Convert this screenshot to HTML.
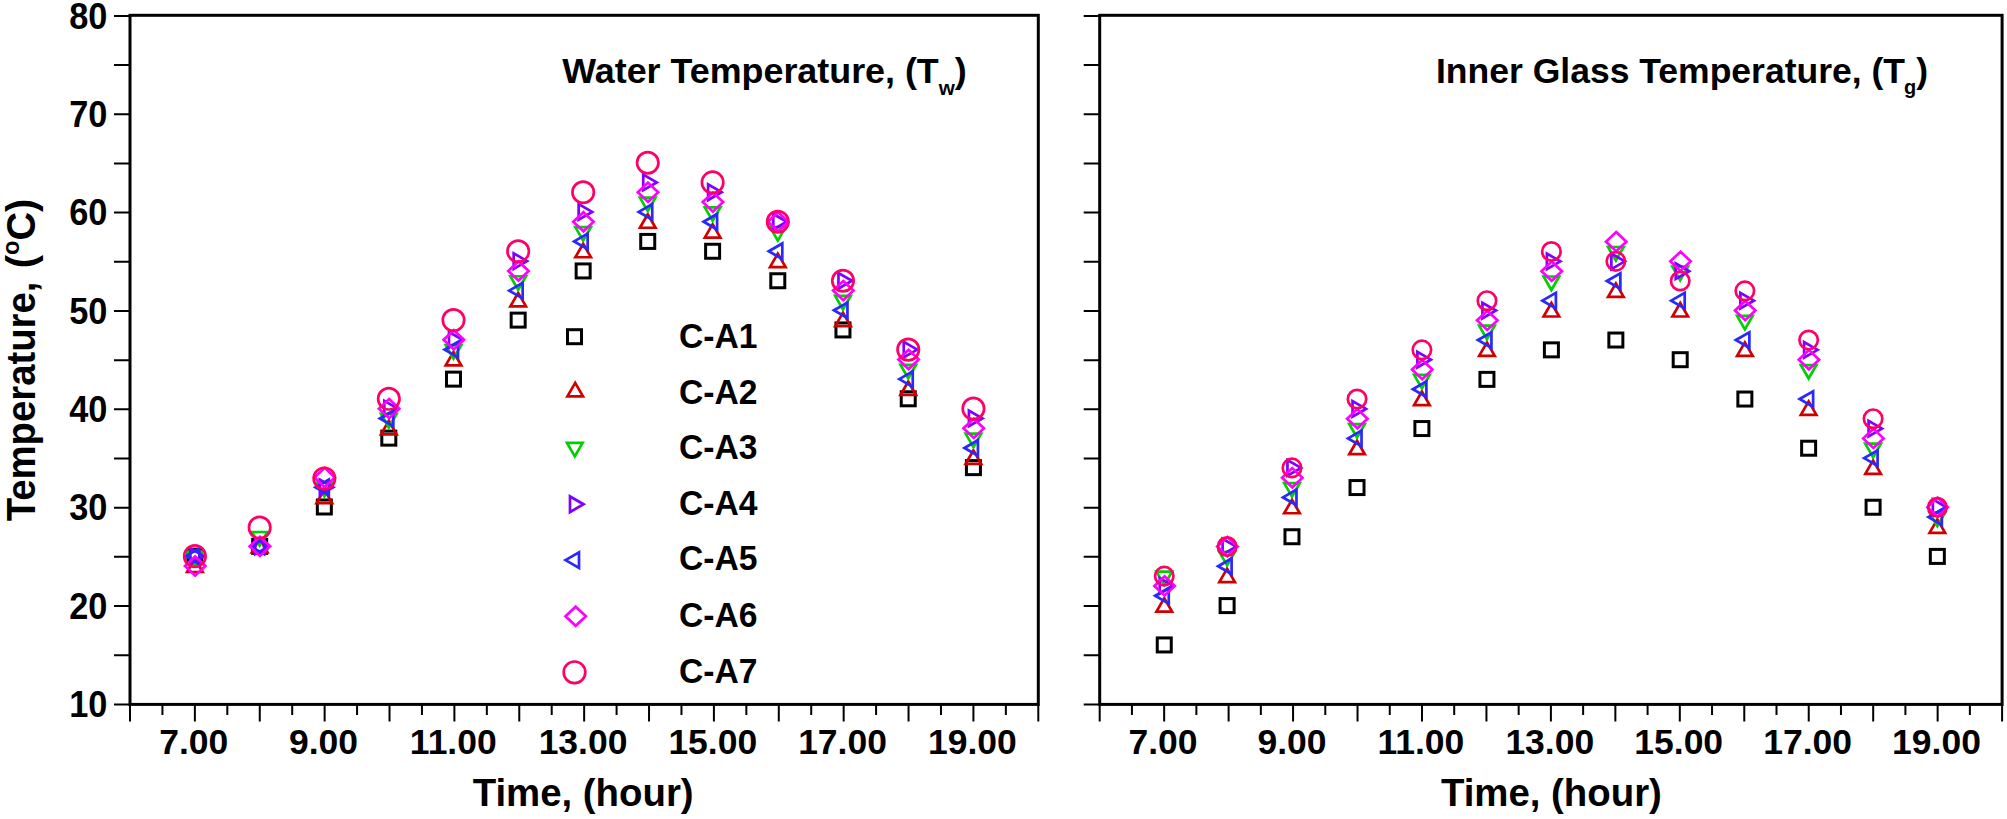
<!DOCTYPE html>
<html lang="en"><head><meta charset="utf-8"><title>Temperature charts</title>
<style>html,body{margin:0;padding:0;background:#fff;}body{width:2007px;height:819px;overflow:hidden;}svg{display:block;}text{font-family:'Liberation Sans', Arial, Helvetica, sans-serif;font-weight:bold;fill:#000;}</style></head><body>
<svg width="2007" height="819" viewBox="0 0 2007 819">
<rect x="0" y="0" width="2007" height="819" fill="#ffffff"/>
<g>
<path d="M114 704.4H130M114 655.22H130M114 606.04H130M114 556.86H130M114 507.69H130M114 458.51H130M114 409.33H130M114 360.15H130M114 310.97H130M114 261.79H130M114 212.61H130M114 163.44H130M114 114.26H130M114 65.08H130M114 15.9H130M130 704.4V721.4M162.44 704.4V714.9M194.88 704.4V721.4M227.32 704.4V714.9M259.76 704.4V721.4M292.2 704.4V714.9M324.64 704.4V721.4M357.07 704.4V714.9M389.51 704.4V721.4M421.95 704.4V714.9M454.39 704.4V721.4M486.83 704.4V714.9M519.27 704.4V721.4M551.71 704.4V714.9M584.15 704.4V721.4M616.59 704.4V714.9M649.03 704.4V721.4M681.47 704.4V714.9M713.91 704.4V721.4M746.35 704.4V714.9M778.79 704.4V721.4M811.22 704.4V714.9M843.66 704.4V721.4M876.1 704.4V714.9M908.54 704.4V721.4M940.98 704.4V714.9M973.42 704.4V721.4M1005.86 704.4V714.9M1038.3 704.4V721.4" stroke="#000" stroke-width="2" fill="none"/>
<rect x="130" y="15.3" width="908.3" height="689.1" fill="none" stroke="#000" stroke-width="3"/>
<text x="193.78" y="753.9" font-size="35.5" text-anchor="middle">7.00</text>
<text x="323.54" y="753.9" font-size="35.5" text-anchor="middle">9.00</text>
<text x="453.29" y="753.9" font-size="35.5" text-anchor="middle">11.00</text>
<text x="583.05" y="753.9" font-size="35.5" text-anchor="middle">13.00</text>
<text x="712.81" y="753.9" font-size="35.5" text-anchor="middle">15.00</text>
<text x="842.56" y="753.9" font-size="35.5" text-anchor="middle">17.00</text>
<text x="972.32" y="753.9" font-size="35.5" text-anchor="middle">19.00</text>
<text x="583.15" y="805.9" font-size="39.5" text-anchor="middle" textLength="221" lengthAdjust="spacingAndGlyphs">Time, (hour)</text>
<g><rect x="187.88" y="549.16" width="14" height="14" fill="none" stroke="#000000" stroke-width="3" stroke-linejoin="miter"/><rect x="252.66" y="539.33" width="14" height="14" fill="none" stroke="#000000" stroke-width="3" stroke-linejoin="miter"/><rect x="317.34" y="499.99" width="14" height="14" fill="none" stroke="#000000" stroke-width="3" stroke-linejoin="miter"/><rect x="381.81" y="431.14" width="14" height="14" fill="none" stroke="#000000" stroke-width="3" stroke-linejoin="miter"/><rect x="446.49" y="372.12" width="14" height="14" fill="none" stroke="#000000" stroke-width="3" stroke-linejoin="miter"/><rect x="511.17" y="313.11" width="14" height="14" fill="none" stroke="#000000" stroke-width="3" stroke-linejoin="miter"/><rect x="576.15" y="263.93" width="14" height="14" fill="none" stroke="#000000" stroke-width="3" stroke-linejoin="miter"/><rect x="640.73" y="234.42" width="14" height="14" fill="none" stroke="#000000" stroke-width="3" stroke-linejoin="miter"/><rect x="705.61" y="244.26" width="14" height="14" fill="none" stroke="#000000" stroke-width="3" stroke-linejoin="miter"/><rect x="770.79" y="273.76" width="14" height="14" fill="none" stroke="#000000" stroke-width="3" stroke-linejoin="miter"/><rect x="835.96" y="322.94" width="14" height="14" fill="none" stroke="#000000" stroke-width="3" stroke-linejoin="miter"/><rect x="901.24" y="391.79" width="14" height="14" fill="none" stroke="#000000" stroke-width="3" stroke-linejoin="miter"/><rect x="966.42" y="460.64" width="14" height="14" fill="none" stroke="#000000" stroke-width="3" stroke-linejoin="miter"/></g>
<g><polygon points="194.88,558.5 202.67,572 187.08,572" fill="none" stroke="#d00000" stroke-width="2.7" stroke-linejoin="miter"/><polygon points="259.66,538.83 267.45,552.33 251.86,552.33" fill="none" stroke="#d00000" stroke-width="2.7" stroke-linejoin="miter"/><polygon points="324.34,489.65 332.13,503.15 316.54,503.15" fill="none" stroke="#d00000" stroke-width="2.7" stroke-linejoin="miter"/><polygon points="388.81,420.8 396.61,434.3 381.02,434.3" fill="none" stroke="#d00000" stroke-width="2.7" stroke-linejoin="miter"/><polygon points="453.49,351.95 461.29,365.45 445.7,365.45" fill="none" stroke="#d00000" stroke-width="2.7" stroke-linejoin="miter"/><polygon points="518.17,292.94 525.97,306.44 510.38,306.44" fill="none" stroke="#d00000" stroke-width="2.7" stroke-linejoin="miter"/><polygon points="583.15,243.76 590.94,257.26 575.36,257.26" fill="none" stroke="#d00000" stroke-width="2.7" stroke-linejoin="miter"/><polygon points="647.73,214.25 655.52,227.75 639.93,227.75" fill="none" stroke="#d00000" stroke-width="2.7" stroke-linejoin="miter"/><polygon points="712.61,224.09 720.4,237.59 704.81,237.59" fill="none" stroke="#d00000" stroke-width="2.7" stroke-linejoin="miter"/><polygon points="777.79,253.59 785.58,267.09 769.99,267.09" fill="none" stroke="#d00000" stroke-width="2.7" stroke-linejoin="miter"/><polygon points="842.96,312.61 850.76,326.11 835.17,326.11" fill="none" stroke="#d00000" stroke-width="2.7" stroke-linejoin="miter"/><polygon points="908.24,381.46 916.04,394.96 900.45,394.96" fill="none" stroke="#d00000" stroke-width="2.7" stroke-linejoin="miter"/><polygon points="973.42,450.31 981.22,463.81 965.63,463.81" fill="none" stroke="#d00000" stroke-width="2.7" stroke-linejoin="miter"/></g>
<g><polygon points="194.88,565.16 202.67,551.66 187.08,551.66" fill="none" stroke="#00d000" stroke-width="2.7" stroke-linejoin="miter"/><polygon points="259.66,545.49 267.45,531.99 251.86,531.99" fill="none" stroke="#00d000" stroke-width="2.7" stroke-linejoin="miter"/><polygon points="324.34,496.31 332.13,482.81 316.54,482.81" fill="none" stroke="#00d000" stroke-width="2.7" stroke-linejoin="miter"/><polygon points="388.81,427.46 396.61,413.96 381.02,413.96" fill="none" stroke="#00d000" stroke-width="2.7" stroke-linejoin="miter"/><polygon points="453.49,358.61 461.29,345.11 445.7,345.11" fill="none" stroke="#00d000" stroke-width="2.7" stroke-linejoin="miter"/><polygon points="518.17,289.76 525.97,276.26 510.38,276.26" fill="none" stroke="#00d000" stroke-width="2.7" stroke-linejoin="miter"/><polygon points="583.15,240.59 590.94,227.09 575.36,227.09" fill="none" stroke="#00d000" stroke-width="2.7" stroke-linejoin="miter"/><polygon points="647.73,211.08 655.52,197.58 639.93,197.58" fill="none" stroke="#00d000" stroke-width="2.7" stroke-linejoin="miter"/><polygon points="712.61,220.91 720.4,207.41 704.81,207.41" fill="none" stroke="#00d000" stroke-width="2.7" stroke-linejoin="miter"/><polygon points="777.79,240.59 785.58,227.09 769.99,227.09" fill="none" stroke="#00d000" stroke-width="2.7" stroke-linejoin="miter"/><polygon points="842.96,309.44 850.76,295.94 835.17,295.94" fill="none" stroke="#00d000" stroke-width="2.7" stroke-linejoin="miter"/><polygon points="908.24,378.29 916.04,364.79 900.45,364.79" fill="none" stroke="#00d000" stroke-width="2.7" stroke-linejoin="miter"/><polygon points="973.42,447.14 981.22,433.64 965.63,433.64" fill="none" stroke="#00d000" stroke-width="2.7" stroke-linejoin="miter"/></g>
<g><polygon points="203.88,556.16 190.38,548.37 190.38,563.96" fill="none" stroke="#8000ff" stroke-width="2.7" stroke-linejoin="miter"/><polygon points="268.66,546.33 255.16,538.53 255.16,554.12" fill="none" stroke="#8000ff" stroke-width="2.7" stroke-linejoin="miter"/><polygon points="333.34,487.31 319.84,479.52 319.84,495.11" fill="none" stroke="#8000ff" stroke-width="2.7" stroke-linejoin="miter"/><polygon points="397.81,408.63 384.31,400.83 384.31,416.42" fill="none" stroke="#8000ff" stroke-width="2.7" stroke-linejoin="miter"/><polygon points="462.49,339.78 448.99,331.98 448.99,347.57" fill="none" stroke="#8000ff" stroke-width="2.7" stroke-linejoin="miter"/><polygon points="527.17,261.09 513.67,253.3 513.67,268.89" fill="none" stroke="#8000ff" stroke-width="2.7" stroke-linejoin="miter"/><polygon points="592.15,211.91 578.65,204.12 578.65,219.71" fill="none" stroke="#8000ff" stroke-width="2.7" stroke-linejoin="miter"/><polygon points="656.73,182.41 643.23,174.61 643.23,190.2" fill="none" stroke="#8000ff" stroke-width="2.7" stroke-linejoin="miter"/><polygon points="721.61,192.24 708.11,184.45 708.11,200.04" fill="none" stroke="#8000ff" stroke-width="2.7" stroke-linejoin="miter"/><polygon points="786.79,221.75 773.29,213.96 773.29,229.54" fill="none" stroke="#8000ff" stroke-width="2.7" stroke-linejoin="miter"/><polygon points="851.96,280.76 838.46,272.97 838.46,288.56" fill="none" stroke="#8000ff" stroke-width="2.7" stroke-linejoin="miter"/><polygon points="917.24,349.61 903.74,341.82 903.74,357.41" fill="none" stroke="#8000ff" stroke-width="2.7" stroke-linejoin="miter"/><polygon points="982.42,418.46 968.92,410.67 968.92,426.26" fill="none" stroke="#8000ff" stroke-width="2.7" stroke-linejoin="miter"/></g>
<g><polygon points="185.88,556.16 199.38,548.37 199.38,563.96" fill="none" stroke="#2828ff" stroke-width="2.7" stroke-linejoin="miter"/><polygon points="250.66,546.33 264.16,538.53 264.16,554.12" fill="none" stroke="#2828ff" stroke-width="2.7" stroke-linejoin="miter"/><polygon points="315.34,487.31 328.84,479.52 328.84,495.11" fill="none" stroke="#2828ff" stroke-width="2.7" stroke-linejoin="miter"/><polygon points="379.81,418.46 393.31,410.67 393.31,426.26" fill="none" stroke="#2828ff" stroke-width="2.7" stroke-linejoin="miter"/><polygon points="444.49,349.61 457.99,341.82 457.99,357.41" fill="none" stroke="#2828ff" stroke-width="2.7" stroke-linejoin="miter"/><polygon points="509.17,290.6 522.67,282.81 522.67,298.39" fill="none" stroke="#2828ff" stroke-width="2.7" stroke-linejoin="miter"/><polygon points="574.15,241.42 587.65,233.63 587.65,249.22" fill="none" stroke="#2828ff" stroke-width="2.7" stroke-linejoin="miter"/><polygon points="638.73,211.91 652.23,204.12 652.23,219.71" fill="none" stroke="#2828ff" stroke-width="2.7" stroke-linejoin="miter"/><polygon points="703.61,221.75 717.11,213.96 717.11,229.54" fill="none" stroke="#2828ff" stroke-width="2.7" stroke-linejoin="miter"/><polygon points="768.79,251.26 782.29,243.46 782.29,259.05" fill="none" stroke="#2828ff" stroke-width="2.7" stroke-linejoin="miter"/><polygon points="833.96,310.27 847.46,302.48 847.46,318.07" fill="none" stroke="#2828ff" stroke-width="2.7" stroke-linejoin="miter"/><polygon points="899.24,379.12 912.74,371.33 912.74,386.92" fill="none" stroke="#2828ff" stroke-width="2.7" stroke-linejoin="miter"/><polygon points="964.42,447.97 977.92,440.18 977.92,455.77" fill="none" stroke="#2828ff" stroke-width="2.7" stroke-linejoin="miter"/></g>
<g><polygon points="195.18,556.4 205.38,566 195.18,575.6 184.98,566" fill="none" stroke="#ff00ff" stroke-width="2.7" stroke-linejoin="miter"/><polygon points="259.96,536.73 270.16,546.33 259.96,555.93 249.76,546.33" fill="none" stroke="#ff00ff" stroke-width="2.7" stroke-linejoin="miter"/><polygon points="324.64,467.88 334.84,477.48 324.64,487.08 314.44,477.48" fill="none" stroke="#ff00ff" stroke-width="2.7" stroke-linejoin="miter"/><polygon points="389.11,399.03 399.31,408.63 389.11,418.23 378.91,408.63" fill="none" stroke="#ff00ff" stroke-width="2.7" stroke-linejoin="miter"/><polygon points="453.79,330.18 463.99,339.78 453.79,349.38 443.59,339.78" fill="none" stroke="#ff00ff" stroke-width="2.7" stroke-linejoin="miter"/><polygon points="518.47,261.33 528.67,270.93 518.47,280.53 508.27,270.93" fill="none" stroke="#ff00ff" stroke-width="2.7" stroke-linejoin="miter"/><polygon points="583.45,212.15 593.65,221.75 583.45,231.35 573.25,221.75" fill="none" stroke="#ff00ff" stroke-width="2.7" stroke-linejoin="miter"/><polygon points="648.03,182.64 658.23,192.24 648.03,201.84 637.83,192.24" fill="none" stroke="#ff00ff" stroke-width="2.7" stroke-linejoin="miter"/><polygon points="712.91,192.48 723.11,202.08 712.91,211.68 702.71,202.08" fill="none" stroke="#ff00ff" stroke-width="2.7" stroke-linejoin="miter"/><polygon points="778.09,212.15 788.29,221.75 778.09,231.35 767.89,221.75" fill="none" stroke="#ff00ff" stroke-width="2.7" stroke-linejoin="miter"/><polygon points="843.26,281 853.46,290.6 843.26,300.2 833.06,290.6" fill="none" stroke="#ff00ff" stroke-width="2.7" stroke-linejoin="miter"/><polygon points="908.54,349.85 918.74,359.45 908.54,369.05 898.34,359.45" fill="none" stroke="#ff00ff" stroke-width="2.7" stroke-linejoin="miter"/><polygon points="973.72,418.7 983.92,428.3 973.72,437.9 963.52,428.3" fill="none" stroke="#ff00ff" stroke-width="2.7" stroke-linejoin="miter"/></g>
<g><circle cx="194.88" cy="556.16" r="10.7" fill="none" stroke="#ff0066" stroke-width="2.7" stroke-linejoin="miter"/><circle cx="259.66" cy="527.64" r="10.7" fill="none" stroke="#ff0066" stroke-width="2.7" stroke-linejoin="miter"/><circle cx="324.34" cy="478.46" r="10.7" fill="none" stroke="#ff0066" stroke-width="2.7" stroke-linejoin="miter"/><circle cx="388.81" cy="398.79" r="10.7" fill="none" stroke="#ff0066" stroke-width="2.7" stroke-linejoin="miter"/><circle cx="453.49" cy="320.11" r="10.7" fill="none" stroke="#ff0066" stroke-width="2.7" stroke-linejoin="miter"/><circle cx="518.17" cy="251.26" r="10.7" fill="none" stroke="#ff0066" stroke-width="2.7" stroke-linejoin="miter"/><circle cx="583.15" cy="192.24" r="10.7" fill="none" stroke="#ff0066" stroke-width="2.7" stroke-linejoin="miter"/><circle cx="647.73" cy="162.74" r="10.7" fill="none" stroke="#ff0066" stroke-width="2.7" stroke-linejoin="miter"/><circle cx="712.61" cy="182.41" r="10.7" fill="none" stroke="#ff0066" stroke-width="2.7" stroke-linejoin="miter"/><circle cx="777.79" cy="221.75" r="10.7" fill="none" stroke="#ff0066" stroke-width="2.7" stroke-linejoin="miter"/><circle cx="842.96" cy="280.76" r="10.7" fill="none" stroke="#ff0066" stroke-width="2.7" stroke-linejoin="miter"/><circle cx="908.24" cy="349.61" r="10.7" fill="none" stroke="#ff0066" stroke-width="2.7" stroke-linejoin="miter"/><circle cx="973.42" cy="408.63" r="10.7" fill="none" stroke="#ff0066" stroke-width="2.7" stroke-linejoin="miter"/></g>
</g>
<g>
<path d="M1083.7 704.4H1099.7M1083.7 655.22H1099.7M1083.7 606.04H1099.7M1083.7 556.86H1099.7M1083.7 507.69H1099.7M1083.7 458.51H1099.7M1083.7 409.33H1099.7M1083.7 360.15H1099.7M1083.7 310.97H1099.7M1083.7 261.79H1099.7M1083.7 212.61H1099.7M1083.7 163.44H1099.7M1083.7 114.26H1099.7M1083.7 65.08H1099.7M1083.7 15.9H1099.7M1099.7 704.4V721.4M1131.93 704.4V714.9M1164.16 704.4V721.4M1196.39 704.4V714.9M1228.61 704.4V721.4M1260.84 704.4V714.9M1293.07 704.4V721.4M1325.3 704.4V714.9M1357.53 704.4V721.4M1389.76 704.4V714.9M1421.99 704.4V721.4M1454.21 704.4V714.9M1486.44 704.4V721.4M1518.67 704.4V714.9M1550.9 704.4V721.4M1583.13 704.4V714.9M1615.36 704.4V721.4M1647.59 704.4V714.9M1679.81 704.4V721.4M1712.04 704.4V714.9M1744.27 704.4V721.4M1776.5 704.4V714.9M1808.73 704.4V721.4M1840.96 704.4V714.9M1873.19 704.4V721.4M1905.41 704.4V714.9M1937.64 704.4V721.4M1969.87 704.4V714.9M2002.1 704.4V721.4" stroke="#000" stroke-width="2" fill="none"/>
<rect x="1099.7" y="15.3" width="902.4" height="689.1" fill="none" stroke="#000" stroke-width="3"/>
<text x="1163.06" y="753.9" font-size="35.5" text-anchor="middle">7.00</text>
<text x="1291.97" y="753.9" font-size="35.5" text-anchor="middle">9.00</text>
<text x="1420.89" y="753.9" font-size="35.5" text-anchor="middle">11.00</text>
<text x="1549.8" y="753.9" font-size="35.5" text-anchor="middle">13.00</text>
<text x="1678.71" y="753.9" font-size="35.5" text-anchor="middle">15.00</text>
<text x="1807.63" y="753.9" font-size="35.5" text-anchor="middle">17.00</text>
<text x="1936.54" y="753.9" font-size="35.5" text-anchor="middle">19.00</text>
<text x="1551.4" y="805.9" font-size="39.5" text-anchor="middle" textLength="221" lengthAdjust="spacingAndGlyphs">Time, (hour)</text>
<g><rect x="1157.26" y="637.94" width="14" height="14" fill="none" stroke="#000000" stroke-width="3" stroke-linejoin="miter"/><rect x="1220.11" y="598.59" width="14" height="14" fill="none" stroke="#000000" stroke-width="3" stroke-linejoin="miter"/><rect x="1284.97" y="529.74" width="14" height="14" fill="none" stroke="#000000" stroke-width="3" stroke-linejoin="miter"/><rect x="1350.03" y="480.56" width="14" height="14" fill="none" stroke="#000000" stroke-width="3" stroke-linejoin="miter"/><rect x="1414.89" y="421.55" width="14" height="14" fill="none" stroke="#000000" stroke-width="3" stroke-linejoin="miter"/><rect x="1479.94" y="372.37" width="14" height="14" fill="none" stroke="#000000" stroke-width="3" stroke-linejoin="miter"/><rect x="1544.4" y="342.86" width="14" height="14" fill="none" stroke="#000000" stroke-width="3" stroke-linejoin="miter"/><rect x="1608.86" y="333.03" width="14" height="14" fill="none" stroke="#000000" stroke-width="3" stroke-linejoin="miter"/><rect x="1673.21" y="352.7" width="14" height="14" fill="none" stroke="#000000" stroke-width="3" stroke-linejoin="miter"/><rect x="1737.87" y="392.04" width="14" height="14" fill="none" stroke="#000000" stroke-width="3" stroke-linejoin="miter"/><rect x="1801.63" y="441.22" width="14" height="14" fill="none" stroke="#000000" stroke-width="3" stroke-linejoin="miter"/><rect x="1866.09" y="500.24" width="14" height="14" fill="none" stroke="#000000" stroke-width="3" stroke-linejoin="miter"/><rect x="1930.34" y="549.41" width="14" height="14" fill="none" stroke="#000000" stroke-width="3" stroke-linejoin="miter"/></g>
<g><polygon points="1164.26,598.09 1172.05,611.59 1156.46,611.59" fill="none" stroke="#d00000" stroke-width="2.7" stroke-linejoin="miter"/><polygon points="1227.11,568.59 1234.91,582.09 1219.32,582.09" fill="none" stroke="#d00000" stroke-width="2.7" stroke-linejoin="miter"/><polygon points="1291.97,499.74 1299.77,513.24 1284.18,513.24" fill="none" stroke="#d00000" stroke-width="2.7" stroke-linejoin="miter"/><polygon points="1357.03,440.72 1364.82,454.22 1349.23,454.22" fill="none" stroke="#d00000" stroke-width="2.7" stroke-linejoin="miter"/><polygon points="1421.89,391.54 1429.68,405.04 1414.09,405.04" fill="none" stroke="#d00000" stroke-width="2.7" stroke-linejoin="miter"/><polygon points="1486.94,342.36 1494.74,355.86 1479.15,355.86" fill="none" stroke="#d00000" stroke-width="2.7" stroke-linejoin="miter"/><polygon points="1551.4,303.02 1559.19,316.52 1543.61,316.52" fill="none" stroke="#d00000" stroke-width="2.7" stroke-linejoin="miter"/><polygon points="1615.86,283.35 1623.65,296.85 1608.06,296.85" fill="none" stroke="#d00000" stroke-width="2.7" stroke-linejoin="miter"/><polygon points="1680.21,303.02 1688.01,316.52 1672.42,316.52" fill="none" stroke="#d00000" stroke-width="2.7" stroke-linejoin="miter"/><polygon points="1744.87,342.36 1752.67,355.86 1737.08,355.86" fill="none" stroke="#d00000" stroke-width="2.7" stroke-linejoin="miter"/><polygon points="1808.63,401.38 1816.42,414.88 1800.83,414.88" fill="none" stroke="#d00000" stroke-width="2.7" stroke-linejoin="miter"/><polygon points="1873.09,460.39 1880.88,473.89 1865.29,473.89" fill="none" stroke="#d00000" stroke-width="2.7" stroke-linejoin="miter"/><polygon points="1937.34,519.41 1945.14,532.91 1929.55,532.91" fill="none" stroke="#d00000" stroke-width="2.7" stroke-linejoin="miter"/></g>
<g><polygon points="1164.26,585.09 1172.05,571.59 1156.46,571.59" fill="none" stroke="#00d000" stroke-width="2.7" stroke-linejoin="miter"/><polygon points="1227.11,565.41 1234.91,551.91 1219.32,551.91" fill="none" stroke="#00d000" stroke-width="2.7" stroke-linejoin="miter"/><polygon points="1291.97,496.56 1299.77,483.06 1284.18,483.06" fill="none" stroke="#00d000" stroke-width="2.7" stroke-linejoin="miter"/><polygon points="1357.03,437.55 1364.82,424.05 1349.23,424.05" fill="none" stroke="#00d000" stroke-width="2.7" stroke-linejoin="miter"/><polygon points="1421.89,388.37 1429.68,374.87 1414.09,374.87" fill="none" stroke="#00d000" stroke-width="2.7" stroke-linejoin="miter"/><polygon points="1486.94,339.19 1494.74,325.69 1479.15,325.69" fill="none" stroke="#00d000" stroke-width="2.7" stroke-linejoin="miter"/><polygon points="1551.4,290.01 1559.19,276.51 1543.61,276.51" fill="none" stroke="#00d000" stroke-width="2.7" stroke-linejoin="miter"/><polygon points="1615.86,260.51 1623.65,247.01 1608.06,247.01" fill="none" stroke="#00d000" stroke-width="2.7" stroke-linejoin="miter"/><polygon points="1680.21,280.18 1688.01,266.68 1672.42,266.68" fill="none" stroke="#00d000" stroke-width="2.7" stroke-linejoin="miter"/><polygon points="1744.87,329.36 1752.67,315.86 1737.08,315.86" fill="none" stroke="#00d000" stroke-width="2.7" stroke-linejoin="miter"/><polygon points="1808.63,378.54 1816.42,365.04 1800.83,365.04" fill="none" stroke="#00d000" stroke-width="2.7" stroke-linejoin="miter"/><polygon points="1873.09,457.22 1880.88,443.72 1865.29,443.72" fill="none" stroke="#00d000" stroke-width="2.7" stroke-linejoin="miter"/><polygon points="1937.34,526.07 1945.14,512.57 1929.55,512.57" fill="none" stroke="#00d000" stroke-width="2.7" stroke-linejoin="miter"/></g>
<g><polygon points="1173.26,585.92 1159.76,578.13 1159.76,593.72" fill="none" stroke="#8000ff" stroke-width="2.7" stroke-linejoin="miter"/><polygon points="1236.11,546.58 1222.61,538.78 1222.61,554.37" fill="none" stroke="#8000ff" stroke-width="2.7" stroke-linejoin="miter"/><polygon points="1300.97,467.89 1287.47,460.1 1287.47,475.69" fill="none" stroke="#8000ff" stroke-width="2.7" stroke-linejoin="miter"/><polygon points="1366.03,408.88 1352.53,401.08 1352.53,416.67" fill="none" stroke="#8000ff" stroke-width="2.7" stroke-linejoin="miter"/><polygon points="1430.89,359.7 1417.39,351.91 1417.39,367.49" fill="none" stroke="#8000ff" stroke-width="2.7" stroke-linejoin="miter"/><polygon points="1495.94,310.52 1482.44,302.73 1482.44,318.32" fill="none" stroke="#8000ff" stroke-width="2.7" stroke-linejoin="miter"/><polygon points="1560.4,261.34 1546.9,253.55 1546.9,269.14" fill="none" stroke="#8000ff" stroke-width="2.7" stroke-linejoin="miter"/><polygon points="1624.86,261.34 1611.36,253.55 1611.36,269.14" fill="none" stroke="#8000ff" stroke-width="2.7" stroke-linejoin="miter"/><polygon points="1689.21,271.18 1675.71,263.38 1675.71,278.97" fill="none" stroke="#8000ff" stroke-width="2.7" stroke-linejoin="miter"/><polygon points="1753.87,300.69 1740.37,292.89 1740.37,308.48" fill="none" stroke="#8000ff" stroke-width="2.7" stroke-linejoin="miter"/><polygon points="1817.63,349.86 1804.13,342.07 1804.13,357.66" fill="none" stroke="#8000ff" stroke-width="2.7" stroke-linejoin="miter"/><polygon points="1882.09,428.55 1868.59,420.76 1868.59,436.34" fill="none" stroke="#8000ff" stroke-width="2.7" stroke-linejoin="miter"/><polygon points="1946.34,507.24 1932.84,499.44 1932.84,515.03" fill="none" stroke="#8000ff" stroke-width="2.7" stroke-linejoin="miter"/></g>
<g><polygon points="1155.26,595.76 1168.76,587.96 1168.76,603.55" fill="none" stroke="#2828ff" stroke-width="2.7" stroke-linejoin="miter"/><polygon points="1218.11,566.25 1231.61,558.46 1231.61,574.04" fill="none" stroke="#2828ff" stroke-width="2.7" stroke-linejoin="miter"/><polygon points="1282.97,497.4 1296.47,489.61 1296.47,505.19" fill="none" stroke="#2828ff" stroke-width="2.7" stroke-linejoin="miter"/><polygon points="1348.03,438.39 1361.53,430.59 1361.53,446.18" fill="none" stroke="#2828ff" stroke-width="2.7" stroke-linejoin="miter"/><polygon points="1412.89,389.21 1426.39,381.41 1426.39,397" fill="none" stroke="#2828ff" stroke-width="2.7" stroke-linejoin="miter"/><polygon points="1477.94,340.03 1491.44,332.23 1491.44,347.82" fill="none" stroke="#2828ff" stroke-width="2.7" stroke-linejoin="miter"/><polygon points="1542.4,300.69 1555.9,292.89 1555.9,308.48" fill="none" stroke="#2828ff" stroke-width="2.7" stroke-linejoin="miter"/><polygon points="1606.86,281.01 1620.36,273.22 1620.36,288.81" fill="none" stroke="#2828ff" stroke-width="2.7" stroke-linejoin="miter"/><polygon points="1671.21,300.69 1684.71,292.89 1684.71,308.48" fill="none" stroke="#2828ff" stroke-width="2.7" stroke-linejoin="miter"/><polygon points="1735.87,340.03 1749.37,332.23 1749.37,347.82" fill="none" stroke="#2828ff" stroke-width="2.7" stroke-linejoin="miter"/><polygon points="1799.63,399.04 1813.13,391.25 1813.13,406.84" fill="none" stroke="#2828ff" stroke-width="2.7" stroke-linejoin="miter"/><polygon points="1864.09,458.06 1877.59,450.26 1877.59,465.85" fill="none" stroke="#2828ff" stroke-width="2.7" stroke-linejoin="miter"/><polygon points="1928.34,517.07 1941.84,509.28 1941.84,524.87" fill="none" stroke="#2828ff" stroke-width="2.7" stroke-linejoin="miter"/></g>
<g><polygon points="1164.56,576.32 1174.76,585.92 1164.56,595.52 1154.36,585.92" fill="none" stroke="#ff00ff" stroke-width="2.7" stroke-linejoin="miter"/><polygon points="1227.41,536.98 1237.61,546.58 1227.41,556.18 1217.21,546.58" fill="none" stroke="#ff00ff" stroke-width="2.7" stroke-linejoin="miter"/><polygon points="1292.27,468.13 1302.47,477.73 1292.27,487.33 1282.07,477.73" fill="none" stroke="#ff00ff" stroke-width="2.7" stroke-linejoin="miter"/><polygon points="1357.33,409.11 1367.53,418.71 1357.33,428.31 1347.13,418.71" fill="none" stroke="#ff00ff" stroke-width="2.7" stroke-linejoin="miter"/><polygon points="1422.19,359.94 1432.39,369.54 1422.19,379.14 1411.99,369.54" fill="none" stroke="#ff00ff" stroke-width="2.7" stroke-linejoin="miter"/><polygon points="1487.24,310.76 1497.44,320.36 1487.24,329.96 1477.04,320.36" fill="none" stroke="#ff00ff" stroke-width="2.7" stroke-linejoin="miter"/><polygon points="1551.7,261.58 1561.9,271.18 1551.7,280.78 1541.5,271.18" fill="none" stroke="#ff00ff" stroke-width="2.7" stroke-linejoin="miter"/><polygon points="1616.16,232.07 1626.36,241.67 1616.16,251.27 1605.96,241.67" fill="none" stroke="#ff00ff" stroke-width="2.7" stroke-linejoin="miter"/><polygon points="1680.51,251.74 1690.71,261.34 1680.51,270.94 1670.31,261.34" fill="none" stroke="#ff00ff" stroke-width="2.7" stroke-linejoin="miter"/><polygon points="1745.17,300.92 1755.37,310.52 1745.17,320.12 1734.97,310.52" fill="none" stroke="#ff00ff" stroke-width="2.7" stroke-linejoin="miter"/><polygon points="1808.93,350.1 1819.13,359.7 1808.93,369.3 1798.73,359.7" fill="none" stroke="#ff00ff" stroke-width="2.7" stroke-linejoin="miter"/><polygon points="1873.39,428.79 1883.59,438.39 1873.39,447.99 1863.19,438.39" fill="none" stroke="#ff00ff" stroke-width="2.7" stroke-linejoin="miter"/><polygon points="1937.64,497.64 1947.84,507.24 1937.64,516.84 1927.44,507.24" fill="none" stroke="#ff00ff" stroke-width="2.7" stroke-linejoin="miter"/></g>
<g><circle cx="1164.26" cy="576.09" r="9.2" fill="none" stroke="#ff0066" stroke-width="2.7" stroke-linejoin="miter"/><circle cx="1227.11" cy="546.58" r="9.2" fill="none" stroke="#ff0066" stroke-width="2.7" stroke-linejoin="miter"/><circle cx="1291.97" cy="467.89" r="9.2" fill="none" stroke="#ff0066" stroke-width="2.7" stroke-linejoin="miter"/><circle cx="1357.03" cy="399.04" r="9.2" fill="none" stroke="#ff0066" stroke-width="2.7" stroke-linejoin="miter"/><circle cx="1421.89" cy="349.86" r="9.2" fill="none" stroke="#ff0066" stroke-width="2.7" stroke-linejoin="miter"/><circle cx="1486.94" cy="300.69" r="9.2" fill="none" stroke="#ff0066" stroke-width="2.7" stroke-linejoin="miter"/><circle cx="1551.4" cy="251.51" r="9.2" fill="none" stroke="#ff0066" stroke-width="2.7" stroke-linejoin="miter"/><circle cx="1615.86" cy="261.34" r="9.2" fill="none" stroke="#ff0066" stroke-width="2.7" stroke-linejoin="miter"/><circle cx="1680.21" cy="281.01" r="9.2" fill="none" stroke="#ff0066" stroke-width="2.7" stroke-linejoin="miter"/><circle cx="1744.87" cy="290.85" r="9.2" fill="none" stroke="#ff0066" stroke-width="2.7" stroke-linejoin="miter"/><circle cx="1808.63" cy="340.03" r="9.2" fill="none" stroke="#ff0066" stroke-width="2.7" stroke-linejoin="miter"/><circle cx="1873.09" cy="418.71" r="9.2" fill="none" stroke="#ff0066" stroke-width="2.7" stroke-linejoin="miter"/><circle cx="1937.34" cy="507.24" r="9.2" fill="none" stroke="#ff0066" stroke-width="2.7" stroke-linejoin="miter"/></g>
</g>
<text x="69.2" y="717.2" font-size="36" textLength="38.2" lengthAdjust="spacingAndGlyphs">10</text>
<text x="69.2" y="618.84" font-size="36" textLength="38.2" lengthAdjust="spacingAndGlyphs">20</text>
<text x="69.2" y="520.49" font-size="36" textLength="38.2" lengthAdjust="spacingAndGlyphs">30</text>
<text x="69.2" y="422.13" font-size="36" textLength="38.2" lengthAdjust="spacingAndGlyphs">40</text>
<text x="69.2" y="323.77" font-size="36" textLength="38.2" lengthAdjust="spacingAndGlyphs">50</text>
<text x="69.2" y="225.41" font-size="36" textLength="38.2" lengthAdjust="spacingAndGlyphs">60</text>
<text x="69.2" y="127.06" font-size="36" textLength="38.2" lengthAdjust="spacingAndGlyphs">70</text>
<text x="69.2" y="28.7" font-size="36" textLength="38.2" lengthAdjust="spacingAndGlyphs">80</text>
<text transform="translate(34.8 521.2) rotate(-90)" font-size="40" textLength="239.5" lengthAdjust="spacingAndGlyphs">Temperature,</text>
<text transform="translate(34.8 268.3) rotate(-90)" font-size="40" textLength="69.5" lengthAdjust="spacingAndGlyphs">(<tspan font-size="24" dy="-15.5">o</tspan><tspan dy="15.5">C)</tspan></text>
<text x="562.3" y="82.7" font-size="35.6" textLength="404.5" lengthAdjust="spacingAndGlyphs">Water Temperature, (T<tspan font-size="20.5" dy="12">w</tspan><tspan dy="-12">)</tspan></text>
<text x="1436" y="82.7" font-size="35.6" textLength="492" lengthAdjust="spacingAndGlyphs">Inner Glass Temperature, (T<tspan font-size="20" dx="-1" dy="11.5">g</tspan><tspan dy="-11.5">)</tspan></text>
<rect x="567.5" y="329.7" width="14" height="14" fill="none" stroke="#000000" stroke-width="3" stroke-linejoin="miter"/>
<text x="679" y="348.1" font-size="35" textLength="78.5" lengthAdjust="spacingAndGlyphs">C-A1</text>
<polygon points="575.2,382.85 582.99,396.35 567.41,396.35" fill="none" stroke="#d00000" stroke-width="2.7" stroke-linejoin="miter"/>
<text x="679" y="404.15" font-size="35" textLength="78.5" lengthAdjust="spacingAndGlyphs">C-A2</text>
<polygon points="574.8,456.4 582.59,442.9 567.01,442.9" fill="none" stroke="#00d000" stroke-width="2.7" stroke-linejoin="miter"/>
<text x="679" y="459.2" font-size="35" textLength="78.5" lengthAdjust="spacingAndGlyphs">C-A3</text>
<polygon points="583.5,504.25 570,496.46 570,512.04" fill="none" stroke="#8000ff" stroke-width="2.7" stroke-linejoin="miter"/>
<text x="679" y="514.55" font-size="35" textLength="78.5" lengthAdjust="spacingAndGlyphs">C-A4</text>
<polygon points="565.5,560.1 579,552.31 579,567.89" fill="none" stroke="#2828ff" stroke-width="2.7" stroke-linejoin="miter"/>
<text x="679" y="570.2" font-size="35" textLength="78.5" lengthAdjust="spacingAndGlyphs">C-A5</text>
<polygon points="575.7,606.65 585.9,616.25 575.7,625.85 565.5,616.25" fill="none" stroke="#ff00ff" stroke-width="2.7" stroke-linejoin="miter"/>
<text x="679" y="627.05" font-size="35" textLength="78.5" lengthAdjust="spacingAndGlyphs">C-A6</text>
<circle cx="574.5" cy="672.3" r="10.8" fill="none" stroke="#ff0066" stroke-width="2.7" stroke-linejoin="miter"/>
<text x="679" y="683.4" font-size="35" textLength="78.5" lengthAdjust="spacingAndGlyphs">C-A7</text>
</svg></body></html>
